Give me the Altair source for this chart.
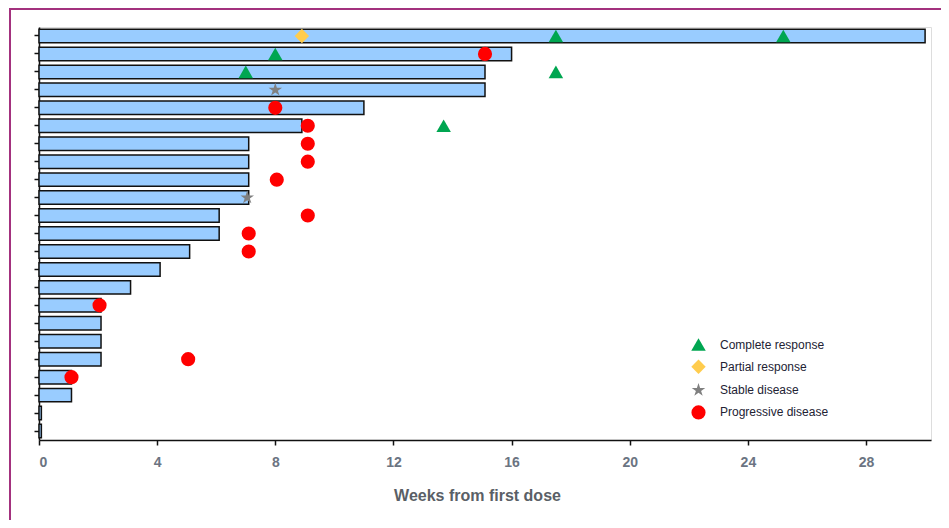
import altair as alt
import pandas as pd

patients = [f"P{i}" for i in range(1, 24)]
weeks = [30.0, 16.0, 15.1, 15.1, 11.0, 8.9, 7.1, 7.1, 7.1, 7.1, 6.1, 6.1,
         5.1, 4.1, 3.1, 2.1, 2.1, 2.1, 2.1, 1.1, 1.1, 0.08, 0.08]

ev_patient = ["P1", "P1", "P1", "P2", "P2", "P3", "P3", "P4", "P5", "P6", "P6",
              "P7", "P8", "P9", "P10", "P11", "P12", "P13", "P16", "P19", "P20"]
ev_week = [8.9, 17.5, 25.2, 8.0, 15.1, 7.0, 17.5, 8.0, 8.0, 9.1, 13.7,
           9.1, 9.1, 8.05, 7.05, 9.1, 7.1, 7.1, 2.05, 5.05, 1.1]
ev_resp = ["Partial response", "Complete response", "Complete response",
           "Complete response", "Progressive disease",
           "Complete response", "Complete response",
           "Stable disease", "Progressive disease",
           "Progressive disease", "Complete response",
           "Progressive disease", "Progressive disease", "Progressive disease",
           "Stable disease", "Progressive disease", "Progressive disease",
           "Progressive disease", "Progressive disease", "Progressive disease",
           "Progressive disease"]

resp_order = ["Complete response", "Partial response", "Stable disease", "Progressive disease"]
resp_colors = ["#00A651", "#FFCC4D", "#808080", "#FF0000"]
resp_sizes = [210, 200, 260, 180]
resp_shapes = ["triangle-up", "diamond",
               "M0,-1L0.2245,-0.309L0.9511,-0.309L0.3633,0.118L0.5878,0.809L0,0.382L-0.5878,0.809L-0.3633,0.118L-0.9511,-0.309L-0.2245,-0.309Z",
               "circle"]

bars = pd.DataFrame({"patient": patients, "weeks": weeks})
events = pd.DataFrame({"patient": ev_patient, "week": ev_week, "response": ev_resp})

W, H = 892, 413

yscale = alt.Scale(domain=patients, paddingInner=0.25, paddingOuter=0.125)
xscale = alt.Scale(domain=[0, 30.2], nice=False, zero=True)

frame_df = pd.DataFrame({"edge": ["top", "left"]})
frame_top = alt.Chart(frame_df).transform_filter("datum.edge == 'top'").mark_rect(
    fill="#A3317E", strokeWidth=0).encode(
    x=alt.value(-30), x2=alt.value(W + 10), y=alt.value(-19), y2=alt.value(-17))
frame_left = alt.Chart(frame_df).transform_filter("datum.edge == 'left'").mark_rect(
    fill="#A3317E", strokeWidth=0).encode(
    x=alt.value(-30), x2=alt.value(-28), y=alt.value(-19), y2=alt.value(H + 80))

bar = alt.Chart(bars).mark_bar(fill="#99CCFF", stroke="#111111", strokeWidth=1.5).encode(
    x=alt.X("weeks:Q", scale=xscale,
            axis=alt.Axis(values=[0, 4, 8, 12, 16, 20, 24, 28], title="Weeks from first dose",
                          grid=False, domainColor="#111111", domainWidth=1.5,
                          tickColor="#111111", tickSize=5, tickWidth=1.5,
                          labelFont="Liberation Sans", labelFontSize=14, labelFontWeight="bold",
                          labelColor="#6B7482", labelPadding=10,
                          titleFont="Liberation Sans", titleFontSize=16, titleFontWeight="bold",
                          titleColor="#5A5F66", titlePadding=18, titleX=438)),
    y=alt.Y("patient:N", sort=patients, scale=yscale,
            axis=alt.Axis(labels=False, title=None, domainColor="#111111", domainWidth=1.5,
                          tickColor="#111111", tickSize=5, tickWidth=1.5)),
)

pts = alt.Chart(events).mark_point(filled=True, opacity=1).encode(
    x=alt.X("week:Q", scale=xscale),
    y=alt.Y("patient:N", sort=patients, scale=yscale),
    color=alt.Color("response:N", scale=alt.Scale(domain=resp_order, range=resp_colors),
                    legend=alt.Legend(title=None, orient="none", legendX=652, legendY=310,
                                      labelFont="Liberation Sans", labelFontSize=12,
                                      labelColor="#222233",
                                      symbolStrokeWidth=0, rowPadding=8.3, labelOffset=14)),
    shape=alt.Shape("response:N", scale=alt.Scale(domain=resp_order, range=resp_shapes)),
    size=alt.Size("response:N", scale=alt.Scale(domain=resp_order, range=resp_sizes), legend=None),
)

chart = alt.layer(frame_top, frame_left, bar, pts).properties(
    width=W, height=H,
    autosize=alt.AutoSizeParams(type="none"),
    padding={"left": 31, "top": 19, "right": 10, "bottom": 80},
).configure_view(strokeWidth=0).configure(background="white")

chart.save("out.html", embed_options={"renderer": "svg", "actions": False})
